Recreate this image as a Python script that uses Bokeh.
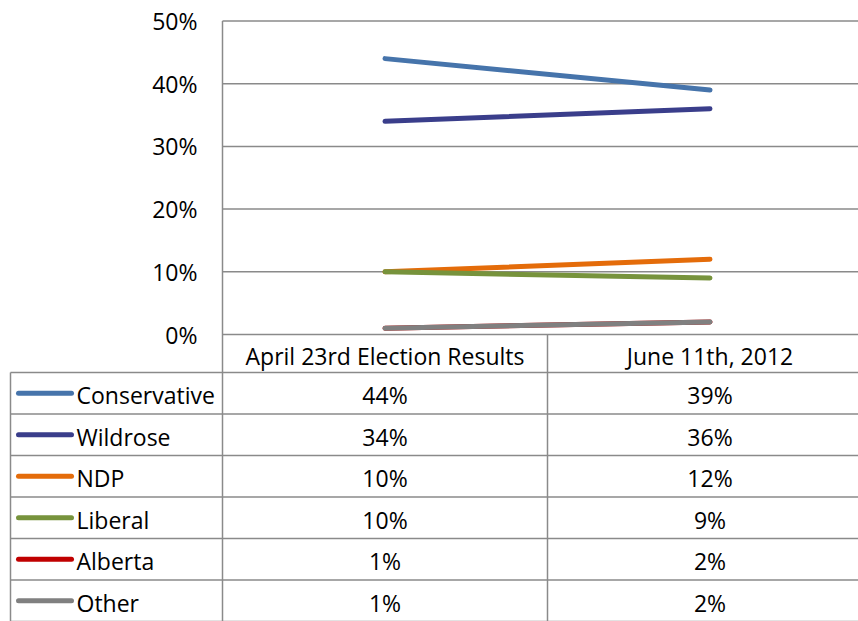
from bokeh.plotting import figure
from bokeh.models import Range1d
from bokeh.core.properties import value
from bokeh.embed import file_html
from bokeh.resources import INLINE

# ---------------- data ----------------
categories = ["April 23rd Election Results", "June 11th, 2012"]
parties = ["Conservative", "Wildrose", "NDP", "Liberal", "Alberta", "Other"]
april = [44, 34, 10, 10, 1, 1]
june = [39, 36, 12, 9, 2, 2]
series_by_category = [april, june]
colors = ["#4674AB", "#3A3E8B", "#E46C0A", "#77933C", "#C00000", "#808080"]
y_ticks = [0, 10, 20, 30, 40, 50]

# ---------------- layout constants (pixels) ----------------
FONT = "Open Sans"
FS = "23px"
GRID = "#8a8a8a"
W, H = 858, 621
AX_L = 222          # x of the value axis
COL_W = 325         # width of one category column
Y0 = 334            # y of 0%
PPU = 627.0         # pixels per 100%
HEAD_Y = 355        # header text centre
ROW_TOP = 372
ROW_H = 41.5
TABLE_L = 10


def px(x):
    return (x - AX_L) / COL_W


def py(y):
    return (Y0 - y) / PPU


p = figure(width=W, height=H,
           x_range=Range1d(px(0), px(W)), y_range=Range1d(py(H), py(0)),
           output_backend="svg", toolbar_location=None,
           x_axis_location=None, y_axis_location=None,
           min_border_left=0, min_border_right=0,
           min_border_top=0, min_border_bottom=0,
           outline_line_color=None)
p.grid.visible = False

tick_vals = [t / 100 for t in y_ticks]
x_end = px(W + 20)
y_end = py(H + 20)
n_cat = len(categories)
n_rows = len(parties)

# horizontal gridlines of the chart
p.segment(x0=[0] * len(tick_vals), y0=tick_vals, x1=[x_end] * len(tick_vals),
          y1=tick_vals, line_color=GRID, line_width=1.5)
# value axis line and column dividers
vx = list(range(n_cat))
p.segment(x0=vx, y0=[max(tick_vals)] + [0] * (n_cat - 1), x1=vx,
          y1=[y_end] * n_cat, line_color=GRID, line_width=1.5)

# y tick labels
p.text(x=[px(AX_L - 25)] * len(tick_vals), y=tick_vals,
       text=[f"{t}%" for t in y_ticks], text_align="right",
       text_baseline="middle", text_font=value(FONT), text_font_size=FS,
       text_color="black")

# series lines
xs = [i + 0.5 for i in range(n_cat)]
for k, party in enumerate(parties):
    ys = [series_by_category[i][k] / 100 for i in range(n_cat)]
    p.line(xs, ys, line_color=colors[k], line_width=5, line_cap="round")

# table header
p.text(x=xs, y=[py(HEAD_Y)] * n_cat, text=categories,
       text_align="center", text_baseline="middle",
       text_font=value(FONT), text_font_size=FS, text_color="black")

# table grid
row_edges = [py(ROW_TOP + r * ROW_H) for r in range(n_rows + 1)]
p.segment(x0=[px(TABLE_L)] * len(row_edges), y0=row_edges,
          x1=[x_end] * len(row_edges), y1=row_edges,
          line_color=GRID, line_width=1.5)
p.segment(x0=[px(TABLE_L)], y0=[row_edges[0]], x1=[px(TABLE_L)], y1=[y_end],
          line_color=GRID, line_width=1.5)

# legend keys and names
row_c = [py(ROW_TOP + (r + 0.5) * ROW_H + 2) for r in range(n_rows)]
key_y = [py(ROW_TOP + (r + 0.5) * ROW_H) for r in range(n_rows)]
p.segment(x0=[px(18)] * n_rows, y0=key_y, x1=[px(71)] * n_rows, y1=key_y,
          line_color=colors, line_width=5, line_cap="round")
p.text(x=[px(76)] * n_rows, y=row_c, text=parties,
       text_align="left", text_baseline="middle",
       text_font=value(FONT), text_font_size=FS, text_color="black")

# table values
for i in range(n_cat):
    p.text(x=[xs[i]] * n_rows, y=row_c,
           text=[f"{v}%" for v in series_by_category[i]],
           text_align="center", text_baseline="middle",
           text_font=value(FONT), text_font_size=FS, text_color="black")

open("out.html", "w").write(file_html(p, INLINE))
